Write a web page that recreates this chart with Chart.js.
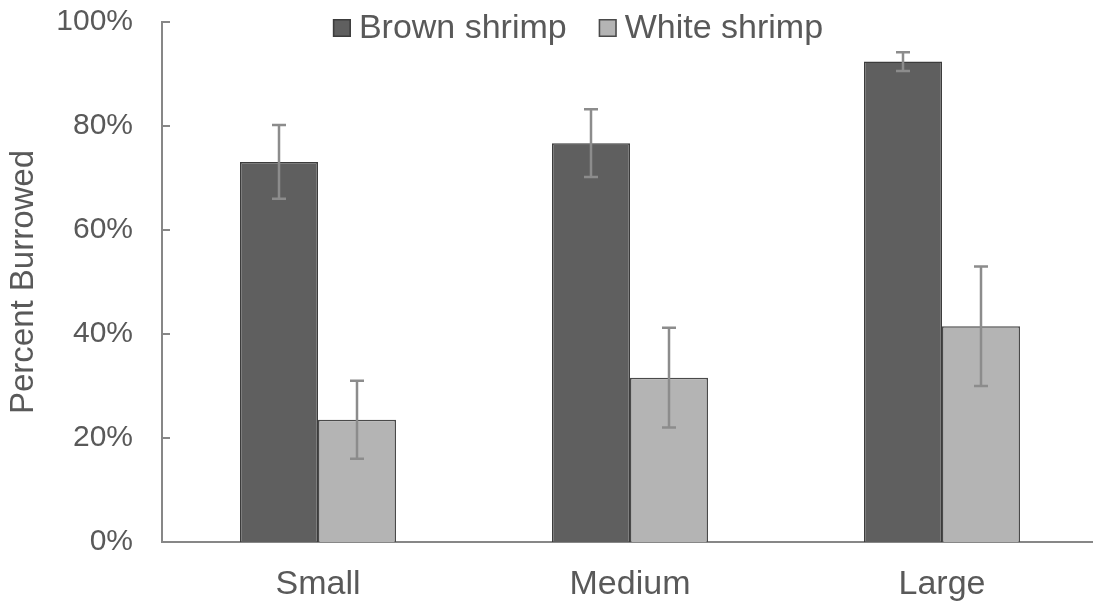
<!DOCTYPE html>
<html>
<head>
<meta charset="utf-8">
<script src="https://cdn.jsdelivr.net/npm/chart.js@4.4.0/dist/chart.umd.min.js"></script>
<style>
  html, body { margin: 0; padding: 0; background: #ffffff; overflow: hidden; }
  #wrap { width: 1100px; height: 607px; }
</style>
</head>
<body>
<div id="wrap"><canvas id="c" width="1100" height="607"></canvas></div>
<script>
// Shrimp burrowing by size class (mean percent burrowed ± error)
const categories = ['Small', 'Medium', 'Large'];
const seriesNames = ['Brown shrimp', 'White shrimp'];
const brownMean = [73.1, 76.7, 92.4];
const brownErr  = [7.1, 6.5, 1.8];
const whiteMean = [23.5, 31.6, 41.5];
const whiteErr  = [7.5, 9.6, 11.5];
const yTickValues = [0, 20, 40, 60, 80, 100];

const FONT = "'Liberation Sans', Arial, sans-serif";
const TEXT = '#595959';
const AXIS = '#878787';

// Error bars drawn from the dataset errors through the y scale
const errorBars = {
  id: 'errorBars',
  afterDatasetsDraw(chart, args, opts) {
    const ctx = chart.ctx, y = chart.scales.y;
    ctx.save();
    ctx.strokeStyle = opts.color;
    ctx.lineWidth = opts.width;
    chart.data.datasets.forEach((ds, i) => {
      const meta = chart.getDatasetMeta(i);
      meta.data.forEach((bar, j) => {
        const v = ds.data[j], e = ds.errors[j];
        const yt = y.getPixelForValue(v + e), yb = y.getPixelForValue(v - e);
        ctx.beginPath();
        ctx.moveTo(bar.x, yt); ctx.lineTo(bar.x, yb);
        ctx.moveTo(bar.x - opts.cap, yt); ctx.lineTo(bar.x + opts.cap, yt);
        ctx.moveTo(bar.x - opts.cap, yb); ctx.lineTo(bar.x + opts.cap, yb);
        ctx.stroke();
      });
    });
    ctx.restore();
  }
};

// Tick marks pointing into the plot on the value axis
const innerTicks = {
  id: 'innerTicks',
  afterDraw(chart, args, opts) {
    const ctx = chart.ctx, y = chart.scales.y, x0 = chart.chartArea.left;
    ctx.save();
    ctx.strokeStyle = AXIS;
    ctx.lineWidth = 2;
    y.ticks.forEach(t => {
      const py = y.getPixelForValue(t.value);
      ctx.beginPath();
      ctx.moveTo(x0, py); ctx.lineTo(x0 + opts.length, py);
      ctx.stroke();
    });
    ctx.restore();
  }
};

// Series key placed inside the top of the plot
const insetLegend = {
  id: 'insetLegend',
  afterDraw(chart, args, opts) {
    const ctx = chart.ctx;
    ctx.save();
    ctx.font = opts.fontSize + 'px ' + FONT;
    ctx.textBaseline = 'middle';
    const items = chart.data.datasets.map(ds => ({
      label: ds.label, fill: ds.backgroundColor, stroke: ds.borderColor,
      w: ctx.measureText(ds.label).width
    }));
    const total = items.reduce((s, it) => s + opts.box + opts.boxGap + it.w, 0) + opts.itemGap * (items.length - 1);
    let x = opts.centerX - total / 2;
    items.forEach(it => {
      ctx.fillStyle = it.fill;
      ctx.fillRect(x, opts.centerY - opts.box / 2, opts.box, opts.box);
      ctx.strokeStyle = it.stroke;
      ctx.lineWidth = 1.5;
      ctx.strokeRect(x + 0.75, opts.centerY - opts.box / 2 + 0.75, opts.box - 1.5, opts.box - 1.5);
      x += opts.box + opts.boxGap;
      ctx.fillStyle = TEXT;
      ctx.fillText(it.label, x, opts.centerY + 1);
      x += it.w + opts.itemGap;
    });
    ctx.restore();
  }
};

new Chart(document.getElementById('c'), {
  type: 'bar',
  data: {
    labels: categories,
    datasets: [
      { label: seriesNames[0], data: brownMean, errors: brownErr,
        backgroundColor: '#5f5f5f', borderColor: '#3c3c3c', borderWidth: 1.5 },
      { label: seriesNames[1], data: whiteMean, errors: whiteErr,
        backgroundColor: '#b4b4b4', borderColor: '#4a4a4a', borderWidth: 1.5 }
    ]
  },
  options: {
    responsive: false,
    animation: false,
    devicePixelRatio: 1,
    layout: { padding: { top: 22, right: 2, left: 0, bottom: 0 } },
    datasets: { bar: { categoryPercentage: 0.5, barPercentage: 1.0 } },
    plugins: {
      legend: { display: false },
      tooltip: { enabled: false },
      errorBars: { color: '#8c8c8c', width: 2.5, cap: 7 },
      innerTicks: { length: 8 },
      insetLegend: { fontSize: 34, box: 18, boxGap: 8, itemGap: 32, centerX: 578, centerY: 28 }
    },
    scales: {
      x: {
        grid: { display: false, drawTicks: false },
        border: { display: true, color: AXIS, width: 2 },
        ticks: { color: TEXT, font: { family: FONT, size: 34 }, padding: 22 },
        afterFit(scale) { scale.height = 65; scale.paddingLeft = 0; scale.paddingRight = 0; }
      },
      y: {
        min: 0, max: 100,
        afterBuildTicks(scale) { scale.ticks = yTickValues.map(v => ({ value: v })); },
        grid: { display: false, drawTicks: false },
        border: { display: true, color: AXIS, width: 2 },
        ticks: { color: TEXT, font: { family: FONT, size: 30 }, padding: 29,
                 callback: v => v + '%' },
        title: { display: true, text: 'Percent Burrowed', color: TEXT,
                 font: { family: FONT, size: 33 }, padding: { top: 4, bottom: 0 } },
        afterFit(scale) { scale.width = 162; scale.paddingTop = 0; scale.paddingBottom = 0; }
      }
    }
  },
  plugins: [errorBars, innerTicks, insetLegend]
});
</script>
</body>
</html>
